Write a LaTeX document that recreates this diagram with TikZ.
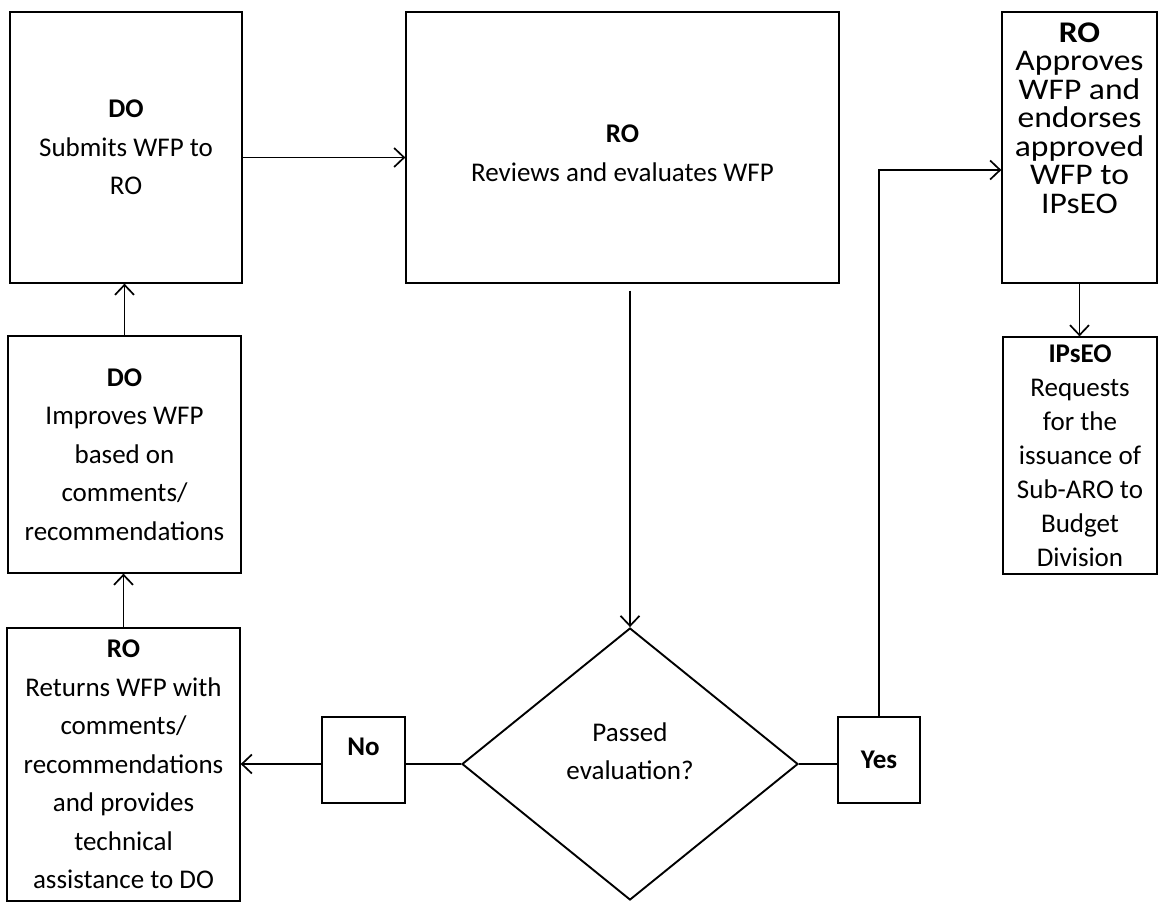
\documentclass[tikz,border=0pt]{standalone}
\usepackage{fontspec}
\setmainfont{Carlito}
\newfontfamily\widefont[FakeStretch=1.12]{Carlito}
\usetikzlibrary{arrows.meta,shapes.geometric}
\begin{document}
\begin{tikzpicture}[x=1pt,y=-1pt,
  box/.style={draw, line width=1.3pt, inner sep=0pt, align=center, font=\fontsize{27}{38.5}\selectfont},
  txt/.style={inner sep=0pt, align=center, font=\fontsize{27}{38.5}\selectfont},
  arr/.style={line width=1.7pt, -{Straight Barb[length=10pt,width=19pt]}},
  ln/.style={line width=1.7pt}]
\useasboundingbox (0,0) rectangle (1158,902);
\fill[white] (0,0) rectangle (1158,902);
% boxes
\node[box, minimum width=232, minimum height=271] (do1) at (126,147.5) {\textbf{DO}\\Submits WFP to\\RO};
\node[box, minimum width=433, minimum height=271, text height=68pt] (ro) at (622.5,147.5) {\textbf{RO}\\Reviews and evaluates WFP};
\node[box, minimum width=155, minimum height=271] (app) at (1079.5,147.5) {};
\node[txt, anchor=north, font=\widefont\fontsize{30}{28.5}\selectfont] (apptxt) at ([yshift=-11pt]app.north) {\textbf{RO}\\Approves\\WFP and\\endorses\\approved\\WFP to\\IPsEO};
\node[box, minimum width=154, minimum height=237, font=\fontsize{27}{34}\selectfont] (ips) at (1080,455.5) {\textbf{IPsEO}\\Requests\\for the\\issuance of\\Sub-ARO to\\Budget\\Division};
\node[box, minimum width=233, minimum height=237] (imp) at (124.5,454.5) {\textbf{DO}\\Improves WFP\\based on\\comments/\\recommendations};
\node[box, minimum width=233, minimum height=273] (ret) at (123.5,764.5) {\textbf{RO}\\Returns WFP with\\comments/\\recommendations\\and provides\\technical\\assistance to DO};
\node[box, minimum width=83, minimum height=86] (no) at (363.5,760) {};
\node[txt] (notxt) at ([yshift=13pt]no.center) {\textbf{No}};
\node[box, minimum width=82, minimum height=86] (yes) at (879,760) {\textbf{Yes}};
\node[draw, shape=diamond, line width=1.9pt, inner sep=0pt, minimum width=336, minimum height=272] (dia) at (630,764) {};
\node[txt] (diatxt) at ([yshift=13pt]dia.center) {Passed\\evaluation?};
% connectors
\draw[arr] ([yshift=-10pt]do1.east) -- ([yshift=-10pt]do1.east -| ro.west);
\draw[arr] (imp.north) -- (imp.north |- do1.south);
\draw[arr] (ret.north) -- (ret.north |- imp.south);
\draw[arr] ([yshift=-7pt]dia.north |- ro.south) -- (dia.north);
\draw[ln] (dia.west) -- (dia.west -| no.east);
\draw[arr] (dia.west -| no.west) -- (dia.west -| ret.east);
\draw[ln] (dia.east) -- (dia.east -| yes.west);
\draw[arr] (yes.north) |- ([yshift=-22.5pt]app.west);
\draw[arr] (app.south) -- (app.south |- ips.north);
\end{tikzpicture}
\end{document}
